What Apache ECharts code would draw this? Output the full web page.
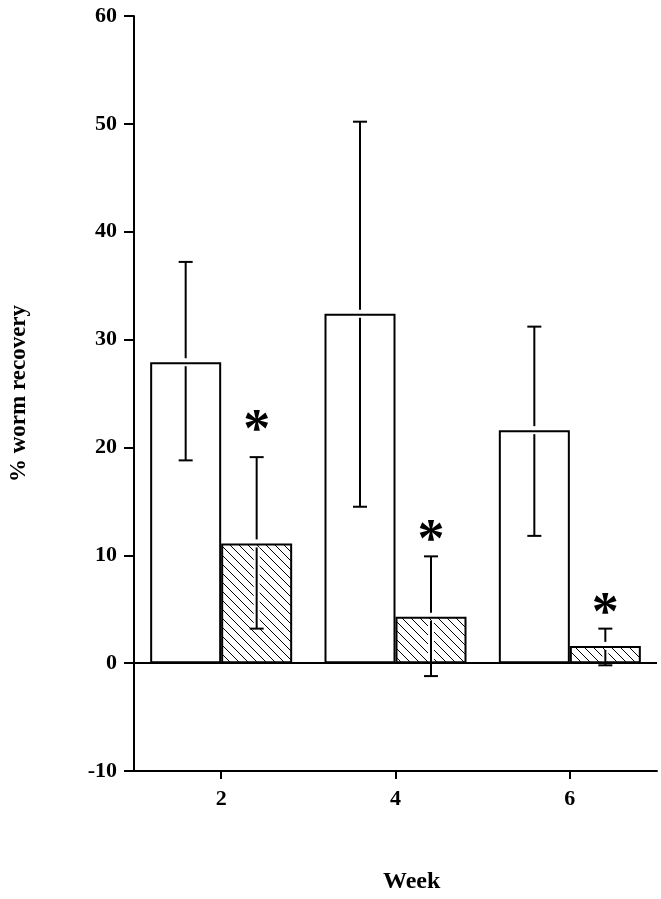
<!DOCTYPE html>
<html>
<head>
<meta charset="utf-8">
<script src="https://cdn.jsdelivr.net/npm/echarts@6/dist/echarts.min.js"></script>
<style>
html,body{margin:0;padding:0;background:#fff;}
#chart{width:661px;height:899px;}
</style>
</head>
<body>
<div id="chart"></div>
<script>
// ---- data ----
const weeks = ['2', '4', '6'];
const controlMean = [27.9, 32.4, 21.6];
const controlHigh = [37.2, 50.2, 31.2];
const controlLow = [18.8, 14.5, 11.8];
const treatedMean = [11.1, 4.3, 1.6];
const treatedHigh = [19.1, 9.9, 3.2];
const treatedLow = [3.2, -1.2, -0.2];
const starValue = [22.5, 12.3, 5.6];
const yMin = -10, yMax = 60, yStep = 10;

// ---- style ----
const FONT = 'Liberation Serif';
const BAR_W = 71;

function hatchPattern() {
  const s = 9;
  const c = document.createElement('canvas');
  c.width = s; c.height = s;
  const g = c.getContext('2d');
  g.fillStyle = '#fff';
  g.fillRect(0, 0, s, s);
  g.strokeStyle = '#000';
  g.lineWidth = 1;
  g.beginPath();
  g.moveTo(-1, -1); g.lineTo(s + 1, s + 1);
  g.moveTo(-1 - s, -1); g.lineTo(1, s + 1);
  g.moveTo(s - 1, -1); g.lineTo(2 * s + 1, s + 1);
  g.stroke();
  return c;
}

function errData(mean, lo, hi) {
  return weeks.map((w, i) => [i, lo[i], mean[i], hi[i]]);
}

function makeErrRender(dx) {
  return function (params, api) {
    const i = api.value(0);
    const pLo = api.coord([i, api.value(1)]);
    const pMean = api.coord([i, api.value(2)]);
    const pHi = api.coord([i, api.value(3)]);
    const pZero = api.coord([i, 0]);
    const x = pMean[0] + dx;
    const gap = 4, cap = 7;
    const blk = { stroke: '#000', lineWidth: 2 };
    const children = [];
    children.push({ type: 'line', shape: { x1: x, y1: pHi[1], x2: x, y2: pMean[1] - gap }, style: blk });
    children.push({ type: 'line', shape: { x1: x - cap, y1: pHi[1], x2: x + cap, y2: pHi[1] }, style: blk });
    const haloEnd = Math.min(pLo[1], pZero[1] - 2);
    if (haloEnd > pMean[1] + gap) {
      children.push({ type: 'line', shape: { x1: x, y1: pMean[1] + gap, x2: x, y2: haloEnd }, style: { stroke: '#fff', lineWidth: 6 } });
    }
    children.push({ type: 'line', shape: { x1: x, y1: pMean[1] + gap, x2: x, y2: pLo[1] }, style: blk });
    children.push({ type: 'line', shape: { x1: x - cap, y1: pLo[1], x2: x + cap, y2: pLo[1] }, style: blk });
    return { type: 'group', children: children };
  };
}

const chart = echarts.init(document.getElementById('chart'), null, { renderer: 'canvas' });
const tickLabel = { color: '#000', fontFamily: FONT, fontWeight: 'bold', fontSize: 22 };

chart.setOption({
  backgroundColor: '#fff',
  animation: false,
  grid: { left: 131, right: 4, top: 16, bottom: 128, containLabel: false },
  xAxis: {
    type: 'category',
    data: weeks,
    boundaryGap: true,
    axisLine: { onZero: false, lineStyle: { color: '#000', width: 2 } },
    axisTick: { show: true, alignWithLabel: true, length: 8, lineStyle: { color: '#000', width: 2 } },
    axisLabel: Object.assign({ margin: 17 }, tickLabel),
    splitLine: { show: false }
  },
  yAxis: {
    type: 'value',
    min: yMin, max: yMax, interval: yStep,
    name: '% worm recovery',
    nameLocation: 'middle',
    nameGap: 103,
    nameRotate: 90,
    nameTextStyle: { color: '#000', fontFamily: FONT, fontWeight: 'bold', fontSize: 23 },
    axisLine: { show: true, lineStyle: { color: '#000', width: 2 } },
    axisTick: { show: true, length: 10, lineStyle: { color: '#000', width: 2 } },
    axisLabel: Object.assign({ margin: 17 }, tickLabel),
    splitLine: { show: false }
  },
  graphic: [{
    type: 'text',
    left: 383, top: 870,
    style: { text: 'Week', fill: '#000', font: 'bold 24px "' + FONT + '"' }
  }],
  series: [
    {
      name: 'control', type: 'bar', data: controlMean, barWidth: BAR_W, barGap: '0%',
      itemStyle: { color: '#fff', borderColor: '#000', borderWidth: 2 },
      markLine: {
        silent: true, symbol: 'none', label: { show: false },
        lineStyle: { color: '#000', width: 2, type: 'solid' },
        data: [{ yAxis: 0 }]
      },
      z: 2
    },
    {
      name: 'treated', type: 'bar', data: treatedMean, barWidth: BAR_W, barGap: '0%',
      itemStyle: { color: { image: hatchPattern(), repeat: 'repeat' }, borderColor: '#000', borderWidth: 2 },
      z: 2
    },
    {
      type: 'custom', data: errData(controlMean, controlLow, controlHigh),
      renderItem: makeErrRender(-BAR_W / 2), z: 5, silent: true
    },
    {
      type: 'custom', data: errData(treatedMean, treatedLow, treatedHigh),
      renderItem: makeErrRender(BAR_W / 2), z: 5, silent: true
    },
    {
      type: 'custom', data: weeks.map((w, i) => [i, starValue[i]]), z: 6, silent: true,
      renderItem: function (params, api) {
        const p = api.coord([api.value(0), api.value(1)]);
        return {
          type: 'text',
          style: {
            text: '*', x: p[0] + BAR_W / 2, y: p[1] + 12,
            textAlign: 'center', textVerticalAlign: 'middle',
            font: 'bold 54px "' + FONT + '"', fill: '#000'
          }
        };
      }
    }
  ]
});
</script>
</body>
</html>
